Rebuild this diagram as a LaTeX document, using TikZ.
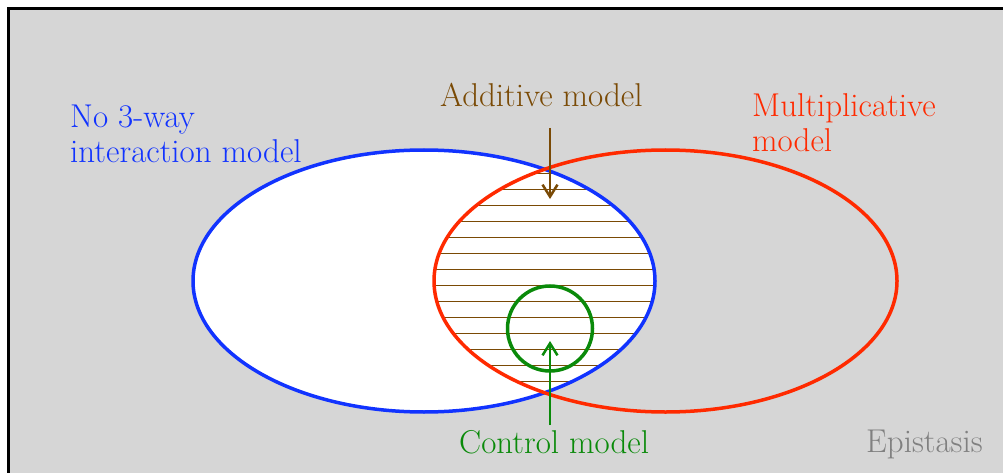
\documentclass[tikz,border=0pt]{standalone}
\usetikzlibrary{arrows.meta}
\definecolor{bgGrey}{HTML}{D6D6D6}
\definecolor{noBlue}{HTML}{1133FF}
\definecolor{mulRed}{HTML}{FF2A00}
\definecolor{addBrown}{HTML}{7A4A05}
\definecolor{ctlGreen}{HTML}{0A8A0A}
\definecolor{epiGrey}{HTML}{808080}
\tikzset{
  lbl/.style={inner sep=0pt, anchor=base west, align=left, font=\fontsize{33}{35}\selectfont},
  setline/.style={line width=3.5pt},
  hatchline/.style={addBrown, line width=1.4pt},
  pointer/.style={line width=1.5pt, -{Straight Barb[length=12pt,width=15pt,line width=2.5pt]}},
}
\begin{document}
\begin{tikzpicture}[x=1pt,y=-1pt]
\useasboundingbox (0,0) rectangle (1003,473);
% background
\fill[bgGrey] (8.5,8.5) rectangle (1015,485);
\draw[line width=3pt] (8.5,490) -- (8.5,8.5) -- (1015,8.5);
% white fill of no-3-way set
\fill[white] (424,281) ellipse [x radius=231pt, y radius=131pt];
% intersection hatching
\begin{scope}
  \clip (424,281) ellipse [x radius=231pt, y radius=131pt];
  \clip (665.5,281) ellipse [x radius=231.5pt, y radius=131pt];
  \foreach \k in {0,...,13} {
    \draw[hatchline] (420,173.5+16*\k) -- (680,173.5+16*\k);
  }
\end{scope}
% sets
\draw[setline, noBlue] (424,281) ellipse [x radius=231pt, y radius=131pt];
\draw[setline, mulRed] (665.5,281) ellipse [x radius=231.5pt, y radius=131pt];
\draw[line width=3.5pt, ctlGreen] (550,328.5) circle [radius=42.5pt];
% labels
\node[lbl, text=noBlue] (nolbl) at (70,163) {No 3-way\\interaction model};
\node[lbl, text=mulRed] (mullbl) at (752,152) {Multiplicative\\model};
\node[lbl, text=addBrown] (addlbl) at (440,107) {Additive model};
\node[lbl, text=ctlGreen] (ctllbl) at (459,453) {Control model};
\node[lbl, text=epiGrey] (epilbl) at (866,452) {Epistasis};
% pointers
\coordinate (addfrom) at (550,128);
\coordinate (addto) at (550,199);
\coordinate (ctlfrom) at (550,425);
\coordinate (ctlto) at (550,341);
\draw[pointer, addBrown] (addfrom) -- (addto);
\draw[pointer, ctlGreen] (ctlfrom) -- (ctlto);
\end{tikzpicture}
\end{document}
